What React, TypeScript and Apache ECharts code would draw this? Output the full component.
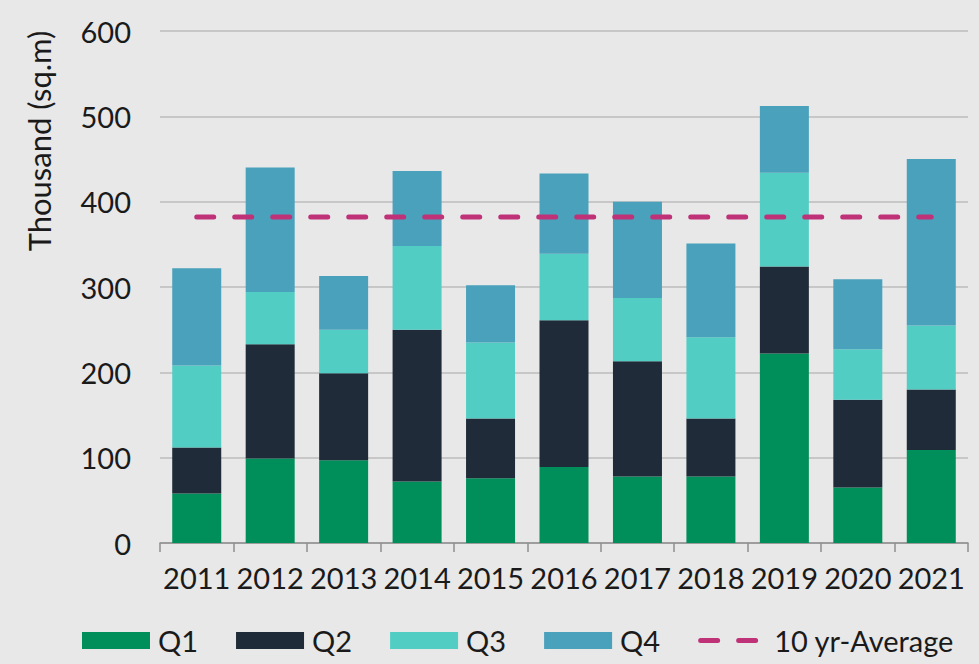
import React, { useEffect, useRef } from "react";
import * as echarts from "echarts";

const years = ["2011", "2012", "2013", "2014", "2015", "2016", "2017", "2018", "2019", "2020", "2021"];
const q1 = [58, 99, 97, 72, 76, 89, 78, 78, 222, 65, 109];
const q2 = [54, 134, 102, 178, 70, 172, 135, 68, 102, 103, 71];
const q3 = [96, 61, 51, 98, 89, 78, 74, 95, 110, 59, 75];
const q4 = [114, 146, 63, 88, 67, 94, 113, 110, 78, 82, 195];
const avgValue = 382;
const avg = years.map(() => avgValue);
const yTicks = { min: 0, max: 600, interval: 100 };

const FONT = "Lato, 'Noto Sans', sans-serif";
const TXT = "#1a1a1a";
const AVG_COLOR = "#bf3278";
const avgLine = { color: AVG_COLOR, width: 5, type: [17, 21], cap: "round" };
const dashIcon =
  "path://M0,0M68,17" +
  "M2.5,6H19.5A2.5,2.5 0 0 1 19.5,11H2.5A2.5,2.5 0 0 1 2.5,6Z" +
  "M40.5,6H57.5A2.5,2.5 0 0 1 57.5,11H40.5A2.5,2.5 0 0 1 40.5,6Z";

export default function App() {
  const ref = useRef<HTMLDivElement>(null);
  useEffect(() => {
    if (!ref.current) return;
    const chart = echarts.init(ref.current, null, { renderer: "svg" });
    const barSeries = (name: string, data: number[], color: string) => ({
      name,
      type: "bar",
      stack: "total",
      data,
      barWidth: 49,
      itemStyle: { color },
      emphasis: { disabled: true },
    });
    chart.setOption({
      animation: false,
      backgroundColor: "#e8e8e8",
      textStyle: { fontFamily: FONT },
      grid: { left: 160, right: 11, top: 31, bottom: 121, containLabel: false },
      graphic: [
        {
          type: "text",
          x: 39,
          y: 141,
          rotation: Math.PI / 2,
          style: {
            text: "Thousand (sq.m)",
            font: `400 31px ${FONT}`,
            fill: TXT,
            align: "center",
            verticalAlign: "middle",
          },
        },
      ],
      legend: {
        left: 82,
        top: 626,
        padding: 0,
        itemWidth: 68,
        itemHeight: 17,
        itemGap: 38,
        selectedMode: false,
        textStyle: { fontSize: 29, color: TXT, fontFamily: FONT, padding: [0, 0, 0, 3] },
        data: [
          { name: "Q1", icon: "rect" },
          { name: "Q2", icon: "rect" },
          { name: "Q3", icon: "rect" },
          { name: "Q4", icon: "rect" },
          { name: "10 yr-Average", icon: dashIcon },
        ],
      },
      xAxis: {
        type: "category",
        data: years,
        boundaryGap: true,
        axisLine: { show: true, lineStyle: { color: "#8f8f8f", width: 1.5 } },
        axisTick: { show: true, length: 9, lineStyle: { color: "#8f8f8f", width: 1.5 } },
        axisLabel: { fontSize: 29, color: TXT, margin: 20, fontFamily: FONT, interval: 0 },
      },
      yAxis: {
        type: "value",
        min: yTicks.min,
        max: yTicks.max,
        interval: yTicks.interval,
        axisLine: { show: false },
        axisTick: { show: false },
        axisLabel: { fontSize: 29, color: TXT, margin: 29, fontFamily: FONT },
        splitLine: { show: true, lineStyle: { color: "#bdbdbd", width: 1.5 } },
      },
      series: [
        barSeries("Q1", q1, "#008f5a"),
        barSeries("Q2", q2, "#1f2b38"),
        barSeries("Q3", q3, "#52cdc4"),
        barSeries("Q4", q4, "#4aa1bb"),
        {
          name: "10 yr-Average",
          type: "line",
          data: avg,
          symbol: "none",
          z: 5,
          lineStyle: avgLine,
          itemStyle: { color: AVG_COLOR },
          emphasis: { disabled: true },
        },
      ],
    });
    return () => chart.dispose();
  }, []);
  return (
    <div
      ref={ref}
      style={{ position: "fixed", left: 0, top: 0, width: 979, height: 664, background: "#e8e8e8" }}
    />
  );
}
